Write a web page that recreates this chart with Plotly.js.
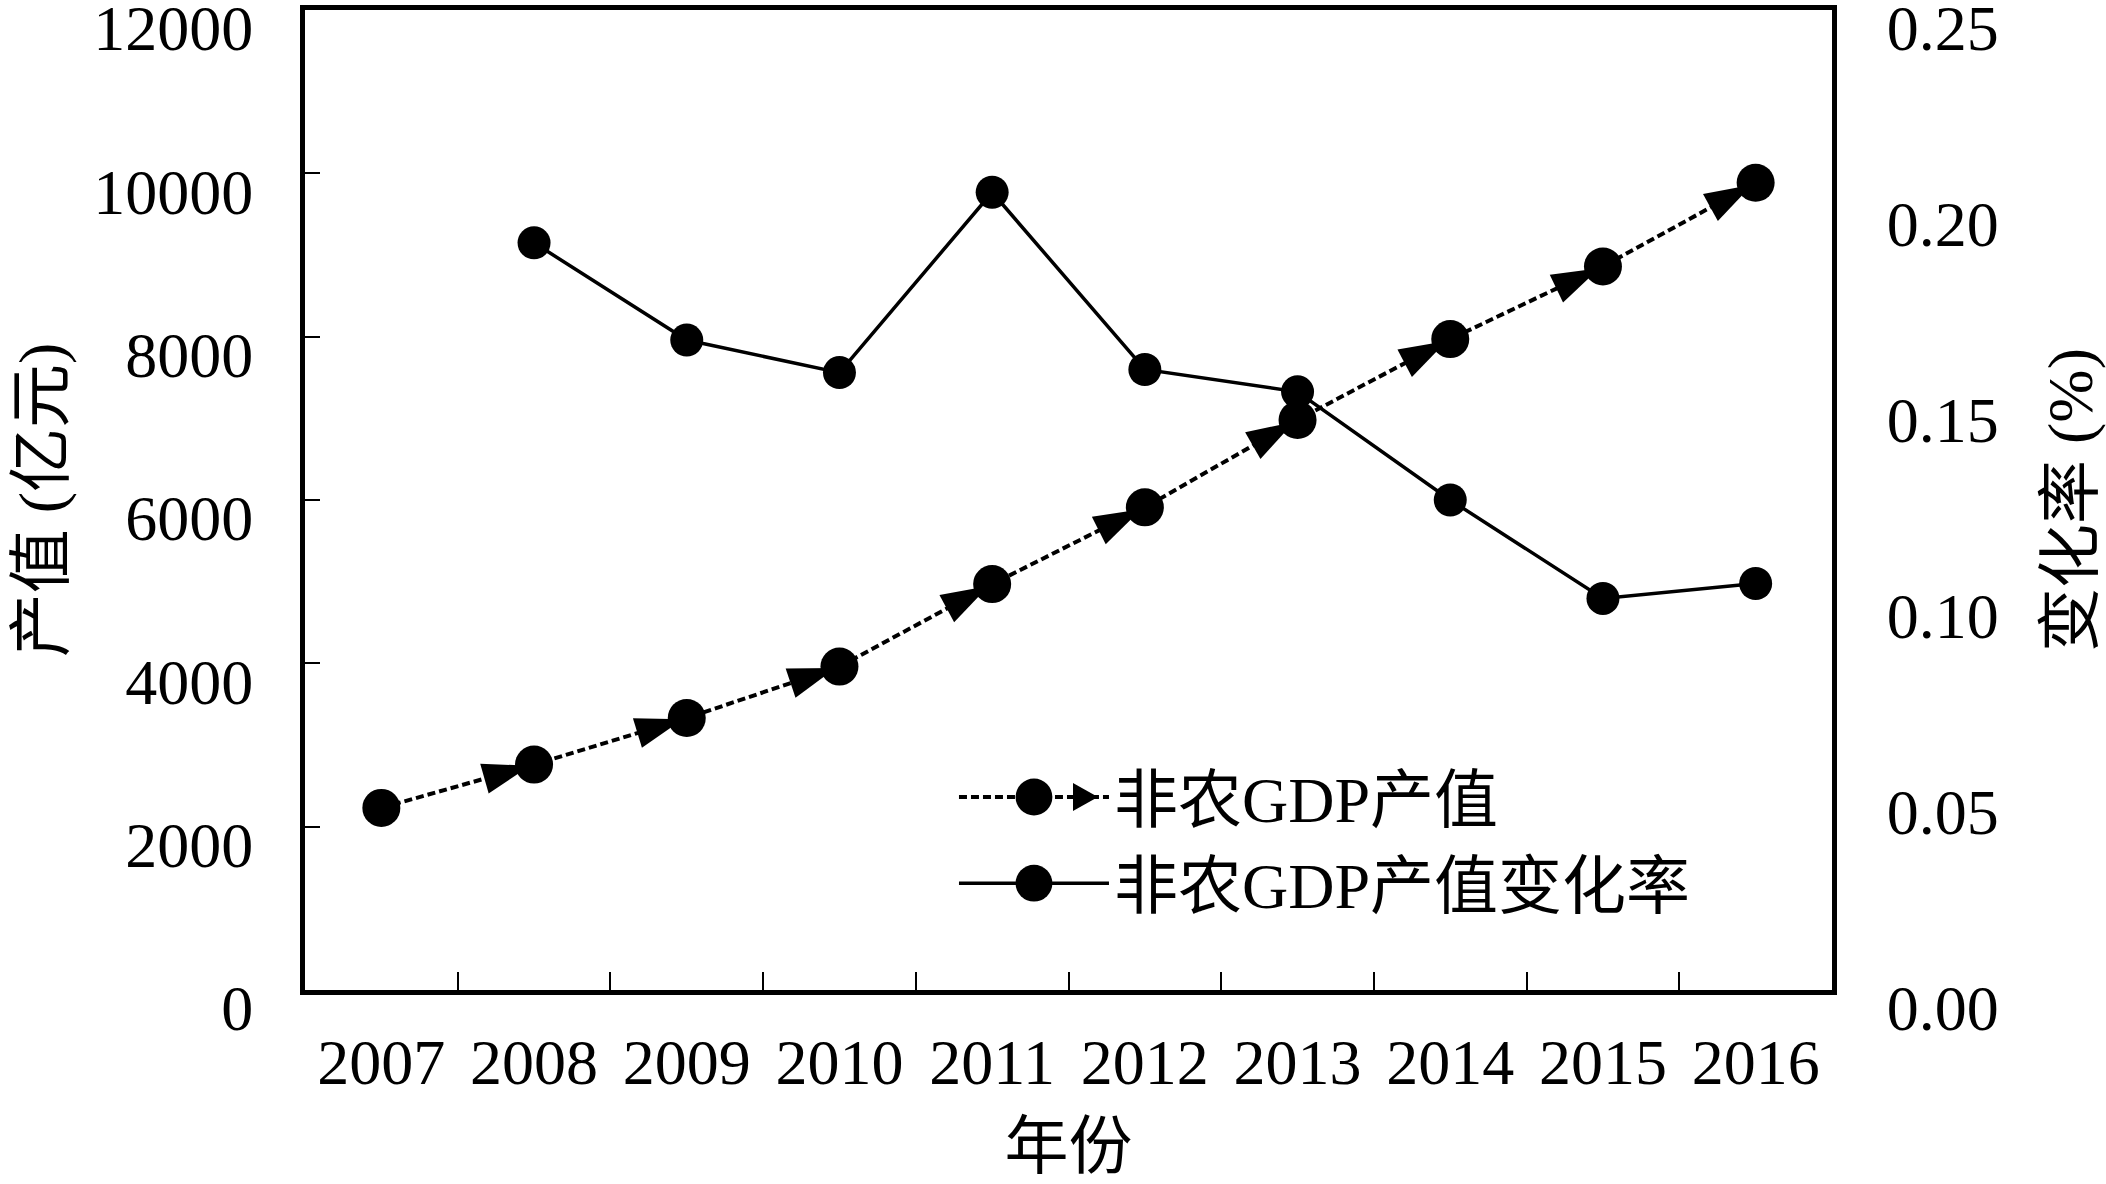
<!DOCTYPE html>
<html>
<head>
<meta charset="utf-8">
<script src="https://cdn.plot.ly/plotly-3.0.1.min.js"></script>
<style>
  html, body { margin: 0; padding: 0; background: #fff; }
  #chart { width: 2106px; height: 1184px; }
</style>
</head>
<body>
<div id="chart"></div>
<script>
  // values
  var years = ['2007', '2008', '2009', '2010', '2011', '2012', '2013', '2014', '2015', '2016'];
  var gdpValue = [2230, 2760, 3330, 3960, 4970, 5910, 6980, 7970, 8860, 9885];
  var gdpRate = [null, 0.1906, 0.1658, 0.1575, 0.2035, 0.1583, 0.1526, 0.125, 0.0999, 0.1037];

  var FONT = 'Liberation Serif, "Times New Roman", "Noto Sans CJK SC", serif';

  // arrow heads on the dotted line, pointing at each circle
  var arrowSizes = years.map(function (d, i) { return i === 0 ? 0 : 50; });
  var gdpArrows = {
    x: years,
    y: gdpValue,
    mode: 'markers',
    showlegend: false,
    hoverinfo: 'skip',
    marker: {
      symbol: 'arrow',
      angleref: 'previous',
      standoff: 4,
      size: arrowSizes,
      opacity: 1,
      color: '#000',
      line: { width: 0 }
    },
    type: 'scatter'
  };

  var gdpTrace = {
    x: years,
    y: gdpValue,
    mode: 'lines+markers',
    name: '非农GDP产值',
    line: { color: '#000', width: 4, dash: '8px,4px' },
    marker: { symbol: 'circle', size: 38, color: '#000' },
    type: 'scatter'
  };

  var rateTrace = {
    x: years,
    y: gdpRate,
    yaxis: 'y2',
    mode: 'lines+markers',
    name: '非农GDP产值变化率',
    line: { color: '#000', width: 3.5 },
    marker: { symbol: 'circle', size: 33, color: '#000' },
    type: 'scatter'
  };

  var data = [gdpArrows, gdpTrace, rateTrace];

  var layout = {
    width: 2106,
    height: 1184,
    margin: { l: 305, r: 274, t: 10, b: 194 },
    paper_bgcolor: '#fff',
    plot_bgcolor: '#fff',
    font: { family: FONT, size: 64, color: '#000' },
    showlegend: true,
    legend: {
      x: 0.425,
      y: 0.246,
      xanchor: 'left',
      yanchor: 'top',
      bgcolor: 'rgba(0,0,0,0)',
      itemwidth: 150,
      tracegroupgap: 0,
      font: { family: FONT, size: 64, color: '#000' }
    },
    xaxis: {
      type: 'category',
      range: [-0.5, 9.5],
      tickson: 'boundaries',
      ticks: 'inside',
      ticklen: 18,
      tickwidth: 2,
      tickcolor: '#000',
      showline: true,
      linewidth: 5,
      linecolor: '#000',
      mirror: true,
      showgrid: false,
      zeroline: false,
      ticklabelstandoff: 12,
      tickfont: { family: FONT, size: 64 },
      title: { text: '年份', font: { family: FONT, size: 64 }, standoff: 28 }
    },
    yaxis: {
      range: [0, 12000],
      dtick: 2000,
      tickformat: 'd',
      ticks: 'inside',
      ticklen: 15,
      tickwidth: 2,
      tickcolor: '#000',
      showline: true,
      linewidth: 5,
      linecolor: '#000',
      showgrid: false,
      zeroline: false,
      ticklabeloverflow: 'allow',
      ticklabelshift: 18,
      ticklabelstandoff: 34,
      tickfont: { family: FONT, size: 64 },
      title: { text: '产值 (亿元)', font: { family: FONT, size: 64 }, standoff: 10 }
    },
    yaxis2: {
      overlaying: 'y',
      side: 'right',
      range: [0, 0.25],
      dtick: 0.05,
      tickformat: '.2f',
      ticks: '',
      showline: true,
      linewidth: 5,
      linecolor: '#000',
      showgrid: false,
      zeroline: false,
      ticklabeloverflow: 'allow',
      ticklabelshift: 18,
      ticklabelstandoff: 37,
      tickfont: { family: FONT, size: 64 },
      title: { text: '变化率 (%)', font: { family: FONT, size: 64 }, standoff: 51 }
    }
  };

  Plotly.newPlot('chart', data, layout, { displayModeBar: false, staticPlot: true }).then(function (gd) {
    // legend symbols are capped in size by plotly; scale them up to match the plot markers
    var pts = gd.querySelectorAll('.legend .legendpoints path.scatterpts');
    pts.forEach(function (p) {
      var t = p.getAttribute('transform') || '';
      p.setAttribute('transform', t + ' scale(2.3)');
    });
    // the first legend entry also carries the arrow head, as in the original figure
    if (pts.length) {
      var first = pts[0];
      var m = /translate\(([-\d.]+),\s*([-\d.]+)\)/.exec(first.getAttribute('transform') || '');
      if (m) {
        var arrow = document.createElementNS('http://www.w3.org/2000/svg', 'path');
        arrow.setAttribute('d', 'M-11,-14L14,0L-11,14Z');
        arrow.setAttribute('transform', 'translate(' + (parseFloat(m[1]) + 50) + ',' + m[2] + ')');
        arrow.setAttribute('style', 'fill:#000;stroke:none');
        first.parentNode.appendChild(arrow);
      }
    }
  });
</script>
</body>
</html>
